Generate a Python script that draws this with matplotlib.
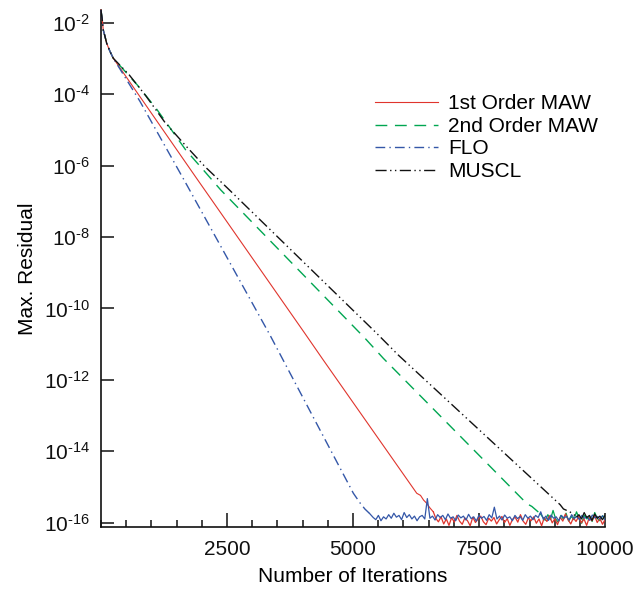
import numpy as np
import matplotlib

matplotlib.use("Agg")
import matplotlib.pyplot as plt
from matplotlib.ticker import FixedLocator, MultipleLocator, FuncFormatter

# log10 of the max residual
START_ITER = [0, 26, 46, 80, 113, 179, 244]
START_LOG = [-1.64, -1.92, -2.20, -2.38, -2.57, -2.80, -2.99]

RED_ITER = [1899, 2196, 4034, 4411, 6263, 6338, 6398, 6453, 6530, 6592]
RED_LOG = [-6.36, -6.96, -10.68, -11.45, -15.18, -15.24, -15.37, -15.45, -15.60, -15.70]
RED_FLOOR_START = 6640
RED_FLOOR_LOG = [
    -15.88, -15.98, -15.84, -16.04, -15.90, -16.08, -15.86, -15.99, -15.80, -15.96,
    -16.05, -15.87, -15.95, -16.09, -15.85, -16.00, -15.90, -15.82, -15.98, -16.06,
    -15.88, -15.96, -15.86, -16.04, -15.92, -15.83, -16.00, -15.89, -16.08, -15.91,
    -15.85, -15.99, -15.78, -15.96, -16.05, -15.87, -15.95, -15.84, -16.02, -15.90,
    -16.09, -15.86, -15.97, -15.81, -16.01, -15.89, -16.06, -15.85, -15.96, -15.76,
    -15.92, -16.04, -15.87, -15.97, -15.83, -16.01, -15.90, -16.08, -15.86, -15.95,
    -15.80, -16.00, -15.88, -16.05, -15.91,
]

GREEN_ITER = [721, 1091, 1389, 1681, 2030, 2375, 5239, 5601, 8446, 8547, 8710]
GREEN_LOG = [-3.74, -4.39, -4.98, -5.56, -6.12, -6.68, -10.84, -11.40, -15.47, -15.55, -15.75]
GREEN_FLOOR_START = 8760
GREEN_FLOOR_LOG = [
    -15.84, -15.94, -15.78, -15.92, -15.66, -15.90, -15.99, -15.80, -15.91, -15.74,
    -15.96, -15.83, -15.92, -15.70, -15.88, -16.02, -15.79, -15.90, -15.82, -15.97,
    -15.72, -15.89, -15.95, -15.81, -15.87,
]

BLUE_ITER = [774, 1667, 3353, 5006, 5138, 5234, 5330]
BLUE_LOG = [-4.20, -6.45, -10.75, -15.18, -15.45, -15.62, -15.75]
BLUE_FLOOR_START = 5400
BLUE_FLOOR_LOG = [
    -15.86, -15.92, -15.80, -15.95, -15.84, -15.90, -15.78, -15.88, -15.74, -15.85,
    -15.80, -15.92, -15.72, -15.86, -15.78, -15.90, -15.82, -15.95, -15.84, -15.80,
    -15.90, -15.33, -15.88, -15.82, -15.93, -15.78, -15.86, -15.80, -15.92, -15.76,
    -15.88, -15.84, -15.95, -15.79, -15.87, -15.82, -15.93, -15.77, -15.89, -15.84,
    -15.96, -15.80, -15.88, -15.83, -15.94, -15.78, -15.87, -15.57, -15.90, -15.82,
    -15.93, -15.79, -15.88, -15.84, -15.95, -15.80, -15.89, -15.83, -15.94, -15.78,
    -15.88, -15.82, -15.92, -15.80, -15.86, -15.70, -15.91, -15.82, -15.94, -15.79,
    -15.88, -15.84, -15.95, -15.80, -15.87, -15.83, -15.93, -15.78, -15.89, -15.82,
    -15.92, -15.80, -15.88, -15.84, -15.94, -15.79, -15.87, -15.83, -15.90, -15.81,
    -15.93,
]

BLACK_ITER = [562, 893, 1270, 1667, 2064, 2510, 5470, 5899, 9107, 9173, 9300, 9440]
BLACK_LOG = [-3.46, -4.05, -4.79, -5.42, -6.03, -6.63, -10.70, -11.31, -15.50, -15.62, -15.70, -15.84]
BLACK_FLOOR_START = 9480
BLACK_FLOOR_LOG = [-15.78, -15.90, -15.72, -15.86, -15.80, -15.94, -15.76, -15.88, -15.82, -15.92, -15.79]

X_MAX = 10000
X_TICKS = [2500, 5000, 7500, 10000]
Y_TICK_EXP = [-16, -14, -12, -10, -8, -6, -4, -2]

SERIES = [
    ("1st Order MAW", "#e0352d", RED_ITER, RED_LOG, RED_FLOOR_START, RED_FLOOR_LOG, "-", 0.8, 3),
    ("2nd Order MAW", "#00a651", GREEN_ITER, GREEN_LOG, GREEN_FLOOR_START, GREEN_FLOOR_LOG, (0, (8.5, 5.5)), 1.0, 2),
    ("FLO", "#3457a8", BLUE_ITER, BLUE_LOG, BLUE_FLOOR_START, BLUE_FLOOR_LOG, (0, (7, 3, 1, 3)), 1.0, 4),
    ("MUSCL", "#111111", BLACK_ITER, BLACK_LOG, BLACK_FLOOR_START, BLACK_FLOOR_LOG, (0, (8, 2.5, 1, 2.5, 1, 2.5)), 1.0, 5),
]

plt.rcParams["font.family"] = ["Liberation Sans", "DejaVu Sans"]
plt.rcParams["mathtext.fontset"] = "custom"
plt.rcParams["mathtext.rm"] = "Liberation Sans"
plt.rcParams["mathtext.default"] = "regular"
plt.rcParams["lines.scale_dashes"] = False

fig = plt.figure(figsize=(6.35, 5.91), dpi=100)
ax = fig.add_axes([0.159, 0.108, 0.794, 0.875])

for label, color, iters, logs, floor_start, floor_log, style, lw, z in SERIES:
    x = np.array(START_ITER + iters, dtype=float)
    y = 10.0 ** np.array(START_LOG + logs)
    ax.plot(x, y, color=color, linestyle=style, linewidth=lw, label=label, zorder=z, clip_on=False)
    # noise floor drawn solid, as in the original
    fx = np.linspace(floor_start, X_MAX, len(floor_log))
    fx = np.concatenate([[iters[-1]], fx])
    fy = 10.0 ** np.array([logs[-1]] + floor_log)
    ax.plot(fx, fy, color=color, linestyle="-", linewidth=0.9, zorder=z)

ax.set_yscale("log")
ax.set_xlim(0, X_MAX)
ax.set_ylim(10 ** -16.13, 10 ** -1.64)

ax.xaxis.set_major_locator(FixedLocator(X_TICKS))
ax.xaxis.set_minor_locator(MultipleLocator(500))
ax.yaxis.set_major_locator(FixedLocator([10.0 ** e for e in Y_TICK_EXP]))
ax.yaxis.set_minor_locator(FixedLocator([]))
ax.yaxis.set_major_formatter(
    FuncFormatter(lambda v, p: r"$10^{\text{-}%d}$" % abs(round(np.log10(v)))))

ax.tick_params(axis="both", which="both", direction="in", labelsize=15, width=1.1, colors="#111111")
ax.tick_params(axis="y", which="major", length=9.5, pad=8)
ax.tick_params(axis="x", which="major", length=10, pad=9)
ax.tick_params(axis="x", which="minor", length=5)

for side in ("top", "right"):
    ax.spines[side].set_visible(False)
for side in ("left", "bottom"):
    ax.spines[side].set_linewidth(1.2)
    ax.spines[side].set_color("#111111")

ax.set_xlabel("Number of Iterations", fontsize=15, labelpad=6)
ax.set_ylabel("Max. Residual", fontsize=15, labelpad=4.5)

ax.legend(loc="upper left", bbox_to_anchor=(0.544, 0.837), frameon=False, fontsize=15,
          handlelength=3.0, handletextpad=0.5, labelspacing=0.17, borderaxespad=0, borderpad=0)

fig.savefig("out.png", dpi=100)
